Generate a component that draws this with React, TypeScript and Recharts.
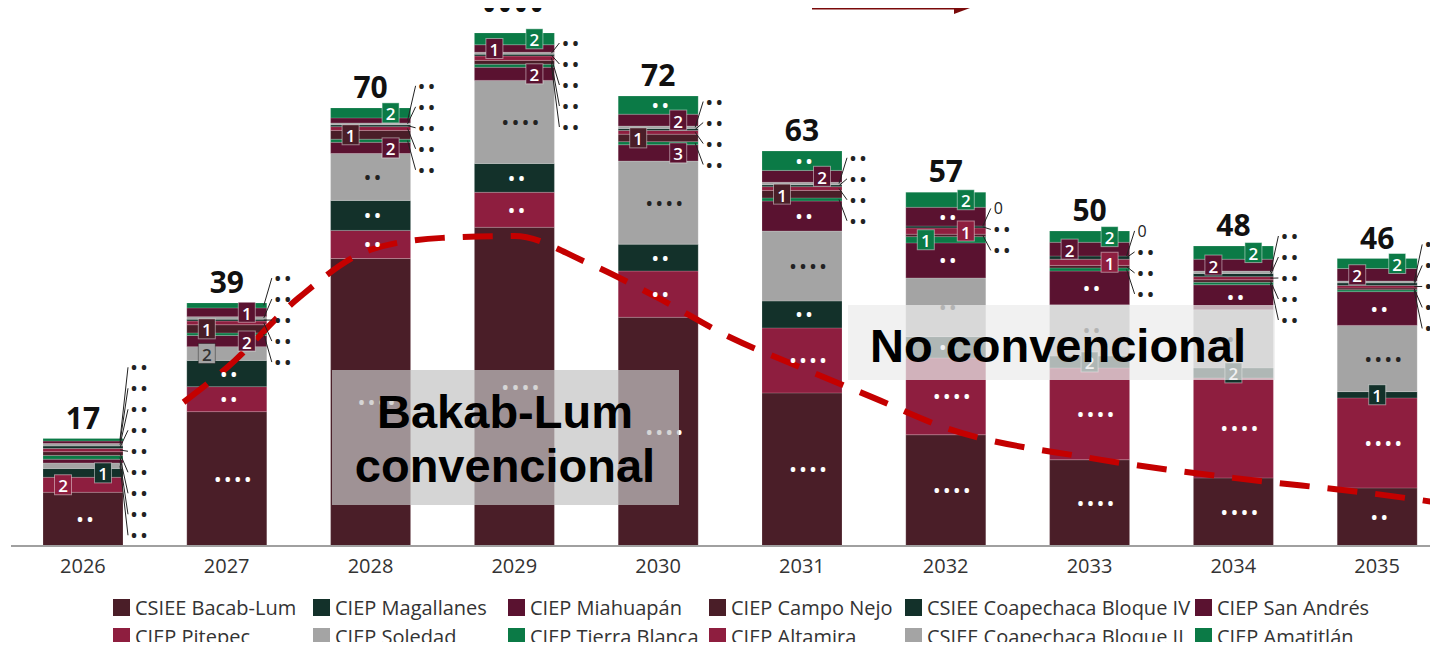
import React from "react";
import { ComposedChart, Bar, Line, XAxis, YAxis, LabelList, Legend } from "recharts";

const years = ["2026", "2027", "2028", "2029", "2030", "2031", "2032", "2033", "2034", "2035"];

// values, bottom of the stack first
const bacabLum = [8.6, 21.5, 46.0, 51.0, 36.6, 24.5, 17.8, 13.8, 10.9, 9.3];
const pitepec = [2.4, 4.0, 4.5, 5.6, 7.4, 10.4, 12.3, 14.7, 16.0, 14.4];
const magallanes = [1.4, 4.2, 4.8, 4.6, 4.3, 4.3, 3.4, 1.9, 1.6, 1.0];
const soledad = [0.9, 2.2, 7.5, 13.3, 13.3, 11.2, 9.4, 8.2, 9.3, 10.6];
const miahuapan = [0.6, 1.8, 1.8, 2.1, 2.6, 4.8, 5.6, 5.4, 4.0, 5.4];
const tierraBlanca = [0.6, 0.4, 0.5, 0.5, 0.5, 0.5, 1.0, 0.5, 0.4, 0.3];
const campoNejo = [0.6, 1.3, 1.4, 0.6, 1.2, 1.2, 0.4, 0.4, 0.4, 0.3];
const altamira = [0.5, 0.6, 0.6, 0.7, 0.6, 0.6, 1.0, 1.0, 0.5, 0.4];
const coapechacaIV = [0.4, 0.3, 0.3, 0.3, 0.3, 0.3, 0.3, 0.5, 0.5, 0.4];
const coapechacaII = [0.4, 0.4, 0.3, 0.3, 0.4, 0.4, 0, 0, 0.4, 0.3];
const sanAndres = [0.4, 1.4, 0.8, 1.2, 1.9, 1.9, 3.0, 2.2, 1.9, 2.0];
const amatitlan = [0.4, 0.8, 1.6, 1.9, 2.9, 3.1, 2.4, 1.8, 2.1, 1.6];

const totalLabels = ["17", "39", "70", "••••", "72", "63", "57", "50", "48", "46"];

// red dashed trend, x in category index units
const curveT = [0.7, 1, 1.5, 2, 2.5, 3, 3.5, 4, 4.5, 5, 5.5, 6, 7, 8, 9, 9.5];
const curveV = [23.0, 28.5, 39.7, 47.4, 49.3, 49.6, 45.4, 39.7, 33.4, 28.5, 23.7, 18.9, 14.1, 10.9, 8.3, 6.7];

const DARK = "#4a1e28";
const CRIMSON = "#8e1e3f";
const DGREEN = "#13312a";
const GRAY = "#a4a4a4";
const MAROON = "#5a1230";
const GREEN = "#0b7a46";

const series = [
  { key: "bacabLum", name: "CSIEE Bacab-Lum", color: DARK, values: bacabLum },
  { key: "pitepec", name: "CIEP Pitepec", color: CRIMSON, values: pitepec },
  { key: "magallanes", name: "CIEP Magallanes", color: DGREEN, values: magallanes },
  { key: "soledad", name: "CIEP Soledad", color: GRAY, values: soledad },
  { key: "miahuapan", name: "CIEP Miahuapán", color: MAROON, values: miahuapan },
  { key: "tierraBlanca", name: "CIEP Tierra Blanca", color: GREEN, values: tierraBlanca },
  { key: "campoNejo", name: "CIEP Campo Nejo", color: DARK, values: campoNejo },
  { key: "altamira", name: "CIEP Altamira", color: CRIMSON, values: altamira },
  { key: "coapechacaIV", name: "CSIEE Coapechaca Bloque IV", color: DGREEN, values: coapechacaIV },
  { key: "coapechacaII", name: "CSIEE Coapechaca Bloque II", color: GRAY, values: coapechacaII },
  { key: "sanAndres", name: "CIEP San Andrés", color: MAROON, values: sanAndres },
  { key: "amatitlan", name: "CIEP Amatitlán", color: GREEN, values: amatitlan },
];

const data = years.map((year, i) => {
  const row: Record<string, string | number> = { year };
  series.forEach((s) => {
    row[s.key] = s.values[i];
  });
  return row;
});

const curveData = curveT.map((t, i) => ({ t, v: curveV[i] }));

const FONT = "Open Sans";
const DOT_MIN = 2.8;
const BOX_MIN = 1;
const PITCH = 21;
const MIN_LABEL_Y = 43;
const legendCols = [105, 305, 500, 701, 897, 1187];

// all segment labels of one bar, drawn from the top series so they sit above every segment
const renderBarLabels = (props: any) => {
  const vb = props.viewBox && props.viewBox.width != null ? props.viewBox : props;
  const x = Number(vb.x);
  const y = Number(vb.y);
  const w = Number(vb.width);
  const h = Math.abs(Number(vb.height));
  const i = props.index;
  const vals = series.map((s) => s.values[i]);
  const topVal = vals[vals.length - 1];
  const k = h / topVal;
  const total = vals.reduce((a, b) => a + b, 0);
  const base = y + total * k;
  const cx = x + w / 2;
  const py = (v: number) => base - v * k;

  let cum = 0;
  const segs = vals.map((v, j) => {
    const lo = cum;
    cum += v;
    return { j, v, mid: py(lo + v / 2) };
  });

  const els: React.ReactNode[] = [];

  segs
    .filter((s) => s.v >= DOT_MIN)
    .forEach((s) => {
      const txt = s.v >= 10 ? "••••" : "••";
      const gray = series[s.j].color === GRAY;
      els.push(
        <text
          key={`d${s.j}`}
          x={cx + txt.length * 2}
          y={s.mid}
          textAnchor="middle"
          dominantBaseline="central"
          fontFamily={FONT}
          fontSize={16}
          fontWeight={700}
          letterSpacing={4}
          fill={gray ? "#222" : "#fff"}
        >
          {txt}
        </text>
      );
    });

  // small boxed values: close neighbours alternate right/left, lone ones sit centred
  const boxes = segs.filter((s) => s.v >= BOX_MIN && s.v < DOT_MIN).reverse();
  let n = 0;
  boxes.forEach((s, b) => {
    const prev = boxes[b - 1];
    const next = boxes[b + 1];
    const gapPrev = prev ? s.mid - prev.mid : Infinity;
    const gapNext = next ? next.mid - s.mid : Infinity;
    n = gapPrev < 25 ? n + 1 : 0;
    let side = n % 2 === 0 ? 20 : -20;
    if (gapPrev >= 40 && gapNext >= 40) side = 0;
    const bx = cx + side;
    const gray = series[s.j].color === GRAY;
    els.push(
      <g key={`b${s.j}`}>
        <rect
          x={bx - 8.5}
          y={s.mid - 10}
          width={17}
          height={20}
          fill={series[s.j].color}
          stroke={gray ? "rgba(0,0,0,0.35)" : "rgba(255,255,255,0.45)"}
          strokeWidth={1}
        />
        <text
          x={bx}
          y={s.mid + 1}
          textAnchor="middle"
          dominantBaseline="central"
          fontFamily={FONT}
          fontSize={17}
          fontWeight={600}
          fill={gray ? "#333" : "#fff"}
        >
          {Math.round(s.v)}
        </text>
      </g>
    );
  });

  const exts = segs.filter((s) => s.v < BOX_MIN).reverse();
  if (exts.length) {
    const yc = exts.reduce((a, s) => a + s.mid, 0) / exts.length;
    const first = Math.max(yc - ((exts.length - 1) / 2) * PITCH, MIN_LABEL_Y);
    exts.forEach((s, m) => {
      const ly = first + m * PITCH;
      els.push(
        <g key={`e${s.j}`}>
          <line x1={x + w - 3} y1={s.mid} x2={x + w + 5} y2={ly} stroke="#222" strokeWidth={1} />
          <text
            x={x + w + 8}
            y={ly}
            dominantBaseline="central"
            fontFamily={FONT}
            fontSize={16}
            fontWeight={s.v === 0 ? 400 : 700}
            letterSpacing={s.v === 0 ? 0 : 4}
            fill="#222"
          >
            {s.v === 0 ? "0" : "••"}
          </text>
        </g>
      );
    });
  }

  const masked = totalLabels[i] === "••••";
  els.push(
    <text
      key="total"
      x={cx}
      y={masked ? y - 14 : y - 10}
      textAnchor="middle"
      fontFamily={FONT}
      fontSize={masked ? 34 : 30}
      fontWeight={700}
      letterSpacing={masked ? 3 : 0}
      fill="#111"
    >
      {totalLabels[i]}
    </text>
  );

  return <g>{els}</g>;
};

const LegendGrid = () => (
  <div style={{ position: "relative", width: 1444, height: 76, fontFamily: FONT, fontSize: 20, color: "#333" }}>
    {series.map((s, i) => {
      const col = Math.floor(i / 2);
      const row = i % 2;
      return (
        <div
          key={s.key}
          style={{
            position: "absolute",
            left: legendCols[col],
            top: 19 + row * 29,
            height: 29,
            display: "flex",
            alignItems: "center",
            whiteSpace: "nowrap",
          }}
        >
          <span style={{ display: "inline-block", width: 17, height: 17, background: s.color, marginRight: 5 }} />
          <span>{s.name}</span>
        </div>
      );
    })}
  </div>
);

export default function App() {
  return (
    <div style={{ position: "relative", width: 1430, height: 650, marginTop: -8, marginBottom: -8, fontFamily: FONT }}>
      <div style={{ width: 1430, height: 650, overflow: "hidden" }}>
        <ComposedChart width={1444} height={650} data={data} margin={{ top: 21, right: 3, bottom: 0, left: 3 }}>
          <XAxis
            xAxisId="cat"
            dataKey="year"
            interval={0}
            height={28}
            tickLine={false}
            tickMargin={7}
            axisLine={{ stroke: "#a0a0a0", strokeWidth: 2 }}
            tick={{ fontSize: 20, fill: "#333", fontFamily: FONT }}
          />
          <XAxis xAxisId="curve" type="number" dataKey="t" domain={[-0.5, 9.5]} allowDataOverflow hide />
          <YAxis domain={[0, 84]} allowDataOverflow hide />
          {series.map((s, idx) => (
            <Bar
              key={s.key}
              xAxisId="cat"
              dataKey={s.key}
              name={s.name}
              stackId="total"
              fill={s.color}
              barSize={80}
              stroke="rgba(255,255,255,0.22)"
              strokeWidth={0.8}
              isAnimationActive={false}
            >
              {idx === series.length - 1 ? <LabelList dataKey={s.key} content={renderBarLabels} /> : null}
            </Bar>
          ))}
          <Line
            xAxisId="curve"
            data={curveData}
            dataKey="v"
            type="monotone"
            stroke="#c40000"
            strokeWidth={6}
            strokeDasharray="30 18"
            dot={false}
            activeDot={false}
            legendType="none"
            isAnimationActive={false}
          />
          <Legend
            verticalAlign="bottom"
            content={() => <LegendGrid />}
            wrapperStyle={{ left: 0, bottom: 0, width: 1444, height: 76 }}
          />
        </ComposedChart>
      </div>
      <svg
        width={1438}
        height={650}
        style={{ position: "absolute", left: -8, top: 0, pointerEvents: "none" }}
      >
        <line x1={812} y1={8} x2={958} y2={8} stroke="#7a0a0a" strokeWidth={3} />
        <polygon points="954,2 970,8 954,14" fill="#7a0a0a" />
        <rect x={332} y={370} width={347} height={135} fill="rgba(195,195,195,0.7)" />
        <text x={505} y={428} textAnchor="middle" fontFamily="Liberation Sans" fontWeight={700} fontSize={47} fill="#000">
          Bakab-Lum
        </text>
        <text x={505} y={482} textAnchor="middle" fontFamily="Liberation Sans" fontWeight={700} fontSize={47} fill="#000">
          convencional
        </text>
        <rect x={848} y={305} width={427} height={75} fill="rgba(235,235,235,0.72)" />
        <text x={1058} y={362} textAnchor="middle" fontFamily="Liberation Sans" fontWeight={700} fontSize={47} fill="#000">
          No convencional
        </text>
      </svg>
    </div>
  );
}
